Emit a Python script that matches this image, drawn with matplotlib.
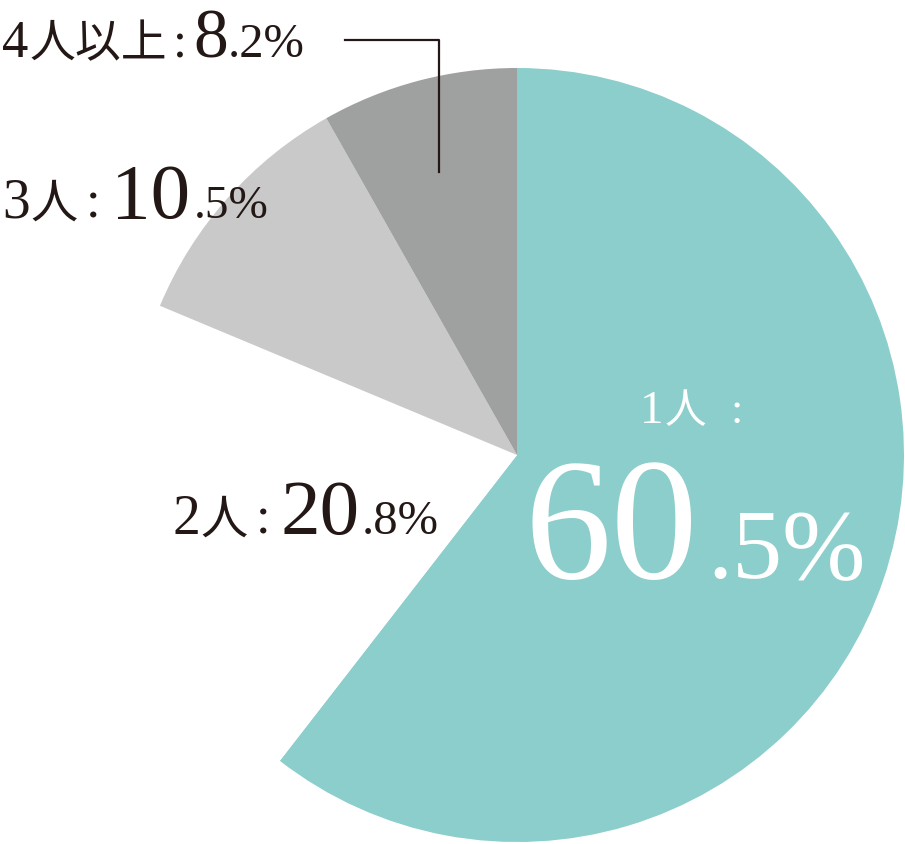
import matplotlib
matplotlib.use("Agg")
import matplotlib.pyplot as plt

# data
labels = ["1人", "2人", "3人", "4人以上"]
values = [60.5, 20.8, 10.5, 8.2]
colors = ["#8bcecb", "#ffffff", "#c9c9c9", "#9fa0a0"]

W, H = 905, 844
ink = "#231815"
serif = ["Liberation Serif", "DejaVu Serif"]
jp = ["Noto Sans CJK JP", "DejaVu Sans"]

fig = plt.figure(figsize=(W / 100, H / 100), dpi=100)
ax = fig.add_axes([0, 0, 1, 1])

ax.pie(values, colors=colors, startangle=90, counterclock=False,
       center=(517, H - 455), radius=387, wedgeprops=dict(linewidth=0))
ax.set_xlim(0, W)
ax.set_ylim(0, H)
ax.set_aspect("auto")
ax.axis("off")

renderer = fig.canvas.get_renderer()


def pieces(x, y, parts, color=ink):
    # parts: list of (text, size, family, gap after)
    for txt, size, fam, gap in parts:
        t = ax.text(x, H - y, txt, fontsize=size, family=fam, color=color,
                    ha="left", va="baseline")
        bb = t.get_window_extent(renderer)
        x += bb.width + gap


def split(v):
    a, b = f"{v:.1f}".split(".")
    return a, "." + b + "%"


# 1人
a, b = split(values[0])
pieces(640, 423, [(labels[0][0], 34, serif, 1), (labels[0][1:], 30, jp, 24),
                  (":", 32, serif, 0)], color="white")
pieces(524, 578, [(a, 125, serif, 10), (b, 72, serif, 0)], color="white")

# 2人
a, b = split(values[1])
pieces(172, 534, [(labels[1][0], 40, serif, 1), (labels[1][1:], 34, jp, 8),
                  (":", 38, serif, 10), (a, 57, serif, 2), (b, 35, serif, 0)])

# 3人
a, b = split(values[2])
pieces(2, 218, [(labels[2][0], 40, serif, 1), (labels[2][1:], 34, jp, 8),
                (":", 38, serif, 10), (a, 57, serif, 4), (b, 34, serif, 0)])

# 4人以上
a, b = split(values[3])
pieces(2, 57, [(labels[3][0], 38, serif, 1), (labels[3][1:], 33, jp, 6),
               (":", 36, serif, 6), (a, 50, serif, 0), (b, 35, serif, 0)])

# leader line
ax.plot([345, 439, 439], [H - 40, H - 40, H - 172], color=ink, lw=1.6)

fig.savefig("out.png", dpi=100)
